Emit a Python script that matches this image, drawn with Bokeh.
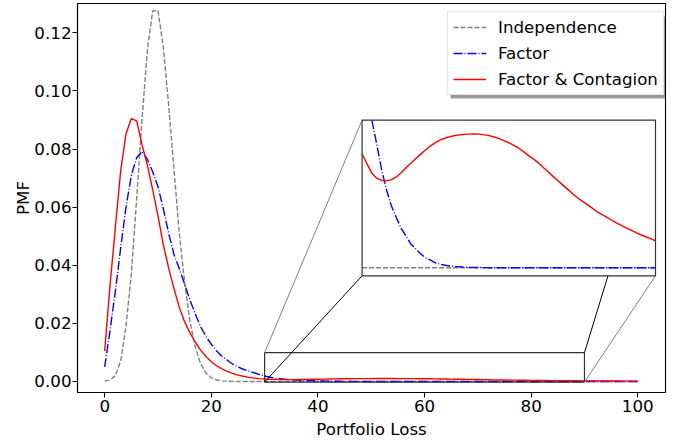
import math
from bokeh.plotting import figure
from bokeh.models import Range1d, FixedTicker, PrintfTickFormatter, Legend, LegendItem, BoxAnnotation
from bokeh.embed import file_html
from bokeh.resources import INLINE

# ---------------- data ----------------
loss = list(range(0, 101))

independence = [
    0.0001, 0.0005, 0.0020, 0.0070, 0.0190, 0.0370, 0.0630, 0.0900, 0.1140, 0.1275,
    0.1277, 0.1150, 0.0950, 0.0730, 0.0510, 0.0340, 0.0205, 0.0118, 0.0060, 0.0029,
    0.0013, 0.0005, 0.0002, 0.0001, 0.00004, 0.00001, 0.0, 0.0, 0.0, 0.0,
    0.0, 0.0, 0.0, 0.0, 0.0, 0.0, 0.0, 0.0, 0.0, 0.0,
    0.0, 0.0, 0.0, 0.0, 0.0, 0.0, 0.0, 0.0, 0.0, 0.0,
    0.0, 0.0, 0.0, 0.0, 0.0, 0.0, 0.0, 0.0, 0.0, 0.0,
    0.0, 0.0, 0.0, 0.0, 0.0, 0.0, 0.0, 0.0, 0.0, 0.0,
    0.0, 0.0, 0.0, 0.0, 0.0, 0.0, 0.0, 0.0, 0.0, 0.0,
    0.0, 0.0, 0.0, 0.0, 0.0, 0.0, 0.0, 0.0, 0.0, 0.0,
    0.0, 0.0, 0.0, 0.0, 0.0, 0.0, 0.0, 0.0, 0.0, 0.0,
    0.0,
]

factor = [
    0.0050, 0.0175, 0.0310, 0.0460, 0.0600, 0.0710, 0.0770, 0.0792, 0.0765, 0.0722,
    0.0670, 0.0595, 0.0510, 0.0437, 0.0388, 0.0335, 0.0280, 0.0232, 0.0188, 0.0155,
    0.0128, 0.0105, 0.0087, 0.0073, 0.0060, 0.0050, 0.0042, 0.0036, 0.0030, 0.0024,
    0.0019, 0.00145, 0.00110, 0.00092, 0.00073, 0.00058, 0.00046, 0.000375, 0.000294, 0.000234,
    0.000176, 0.000141, 0.000103, 0.000074, 0.000056, 0.000037, 0.000026, 0.000019, 0.000013, 0.000009,
    0.000007, 0.000004, 0.000003, 0.000002, 0.0000015, 0.000001, 0.0, 0.0, 0.0, 0.0,
    0.0, 0.0, 0.0, 0.0, 0.0, 0.0, 0.0, 0.0, 0.0, 0.0,
    0.0, 0.0, 0.0, 0.0, 0.0, 0.0, 0.0, 0.0, 0.0, 0.0,
    0.0, 0.0, 0.0, 0.0, 0.0, 0.0, 0.0, 0.0, 0.0, 0.0,
    0.0, 0.0, 0.0, 0.0, 0.0, 0.0, 0.0, 0.0, 0.0, 0.0,
    0.0,
]

contagion = [
    0.0105, 0.0330, 0.0530, 0.0725, 0.0853, 0.0905, 0.0897, 0.0815, 0.0745, 0.0660,
    0.0570, 0.0470, 0.0390, 0.0320, 0.0255, 0.0205, 0.0167, 0.0135, 0.0108, 0.0086,
    0.0068, 0.0054, 0.0043, 0.0035, 0.0028, 0.0022, 0.0018, 0.0014, 0.00115, 0.00097,
    0.000850, 0.000774, 0.000705, 0.000668, 0.000651, 0.000648, 0.000657, 0.000677, 0.000708, 0.000745,
    0.000781, 0.000814, 0.000847, 0.000880, 0.000909, 0.000933, 0.000953, 0.000967, 0.000978, 0.000986,
    0.000991, 0.000994, 0.000996, 0.000997, 0.000996, 0.000991, 0.000985, 0.000975, 0.000963, 0.000948,
    0.000932, 0.000913, 0.000893, 0.000866, 0.000838, 0.000812, 0.000784, 0.000750, 0.000717, 0.000683,
    0.000650, 0.000618, 0.000586, 0.000554, 0.000524, 0.000497, 0.000472, 0.000446, 0.000419, 0.000398,
    0.000377, 0.000356, 0.000334, 0.000316, 0.000298, 0.000281, 0.000262, 0.000246, 0.000231, 0.000217,
    0.000201, 0.000188, 0.000176, 0.000164, 0.000153, 0.000143, 0.000133, 0.000124, 0.000116, 0.000108,
    0.000100,
]

series_labels = ["Independence", "Factor", "Factor & Contagion"]
x_ticks = [0, 20, 40, 60, 80, 100]
y_ticks = [0.00, 0.02, 0.04, 0.06, 0.08, 0.10, 0.12]

# ---------------- layout / style constants ----------------
X0, X1 = -5.1, 105.2
Y0, Y1 = -0.0038, 0.1301
ZOOM_X = (30, 90)            # inset x limits
ZOOM_Y = (-0.00006, 0.0011)  # inset y limits
RECT_Y = (-0.0002, 0.0099)   # marked rectangle on the main axes
INSET = (0.484, 0.30, 0.499, 0.40)  # axes-fraction box of the inset

FONT = "DejaVu Sans"
FS = "16.7px"
LW = 1.4
STYLES = [
    dict(line_color="gray", line_dash="5 2", line_width=LW),
    dict(line_color="blue", line_dash="9 2 1 2", line_width=LW),
    dict(line_color="red", line_width=LW),
]

p = figure(width=679, height=444, x_range=Range1d(X0, X1), y_range=Range1d(Y0, Y1),
           output_backend="svg", toolbar_location=None,
           min_border_left=77, min_border_right=14, min_border_top=3, min_border_bottom=52)
p.background_fill_color = "white"
p.border_fill_color = "white"
p.outline_line_color = "black"
p.outline_line_width = 1.1
p.xgrid.visible = False
p.ygrid.visible = False

for ax in (p.xaxis[0], p.yaxis[0]):
    ax.major_tick_in = 0
    ax.major_tick_out = 5
    ax.major_tick_line_width = 1.1
    ax.minor_tick_line_color = None
    ax.axis_line_width = 1.1
    ax.major_label_text_font = FONT
    ax.major_label_text_font_size = FS
    ax.major_label_text_color = "black"
    ax.axis_label_text_font = FONT
    ax.axis_label_text_font_size = FS
    ax.axis_label_text_font_style = "normal"
    ax.axis_label_text_color = "black"

p.xaxis.ticker = FixedTicker(ticks=x_ticks)
p.xaxis.formatter = PrintfTickFormatter(format="%d")
p.xaxis.axis_label = "Portfolio Loss"
p.xaxis.major_label_standoff = 2
p.xaxis.axis_label_standoff = 4
p.yaxis.ticker = FixedTicker(ticks=y_ticks)
p.yaxis.formatter = PrintfTickFormatter(format="%.2f")
p.yaxis.axis_label = "PMF"
p.yaxis.major_label_standoff = 1
p.yaxis.axis_label_standoff = -2

# ---------------- main curves ----------------
series = [independence, factor, contagion]
main_renderers = [p.line(loss, ys, **st) for ys, st in zip(series, STYLES)]

# ---------------- zoom rectangle + connectors ----------------
tx0 = X0 + INSET[0] * (X1 - X0)
tx1 = X0 + (INSET[0] + INSET[2]) * (X1 - X0)
ty0 = Y0 + INSET[1] * (Y1 - Y0)
ty1 = Y0 + (INSET[1] + INSET[3]) * (Y1 - Y0)

p.quad(left=[ZOOM_X[0]], right=[ZOOM_X[1]], bottom=[RECT_Y[0]], top=[RECT_Y[1]],
       fill_alpha=0, line_color="#333333", line_width=1.2)
p.segment(x0=[ZOOM_X[0], ZOOM_X[0], ZOOM_X[1], ZOOM_X[1]],
          y0=[RECT_Y[1], RECT_Y[0], RECT_Y[1], RECT_Y[0]],
          x1=[tx0, tx0, tx1, tx1], y1=[ty1, ty0, ty1, ty0],
          line_color=["gray", "black", "black", "gray"], line_width=1)

# inset background
p.quad(left=[tx0], right=[tx1], bottom=[ty0], top=[ty1],
       fill_color="white", line_color=None)

def clip_line(xs, ys, xlo, xhi, yhi):
    pts = [(x, y) for x, y in zip(xs, ys) if xlo <= x <= xhi]
    ox, oy = [], []
    for i, (x, y) in enumerate(pts):
        if i > 0:
            xp, yp = pts[i - 1]
            if (yp > yhi) != (y > yhi):
                t = (yhi - yp) / (y - yp)
                ox.append(xp + t * (x - xp)); oy.append(yhi)
                if y > yhi:
                    ox.append(math.nan); oy.append(math.nan)
        if y <= yhi:
            ox.append(x); oy.append(y)
    return ox, oy

sub = p.subplot(x_source=Range1d(*ZOOM_X), y_source=Range1d(*ZOOM_Y),
                x_target=Range1d(tx0, tx1), y_target=Range1d(ty0, ty1))
for ys, st in zip(series, STYLES):
    cx, cy = clip_line(loss, ys, ZOOM_X[0], ZOOM_X[1], ZOOM_Y[1])
    sub.line(cx, cy, **st)

# inset frame
p.quad(left=[tx0], right=[tx1], bottom=[ty0], top=[ty1],
       fill_alpha=0, line_color="#333333", line_width=1.2)

# ---------------- legend (with shadow) ----------------
LEG_X, LEG_Y = 370, 297
shadow = BoxAnnotation(left=LEG_X + 3, right=LEG_X + 300, bottom=LEG_Y - 3, top=LEG_Y + 79,
                       left_units="screen", right_units="screen",
                       bottom_units="screen", top_units="screen",
                       fill_color="black", fill_alpha=0.4, line_color=None)
p.add_layout(shadow, "center")
legend = Legend(items=[LegendItem(label=l, renderers=[r]) for l, r in zip(series_labels, main_renderers)],
                location=(LEG_X, LEG_Y), border_line_color="#cccccc", border_line_width=1,
                background_fill_color="white", background_fill_alpha=1.0,
                label_text_color="black", label_text_font=FONT, label_text_font_size=FS,
                glyph_width=33, glyph_height=20, label_height=20, label_standoff=12,
                spacing=6, padding=5, margin=0)
p.add_layout(legend, "center")

open("out.html", "w").write(file_html(p, INLINE))
